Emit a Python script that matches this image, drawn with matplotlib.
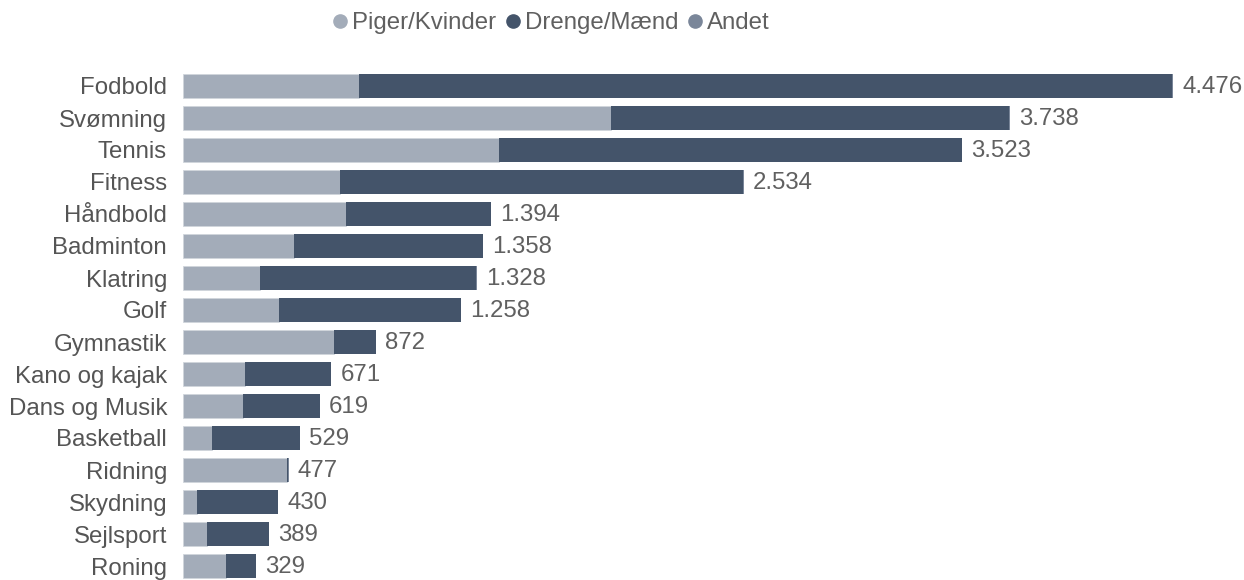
import matplotlib.pyplot as plt
from matplotlib.lines import Line2D

sports = ['Fodbold', 'Svømning', 'Tennis', 'Fitness', 'Håndbold', 'Badminton', 'Klatring',
          'Golf', 'Gymnastik', 'Kano og kajak', 'Dans og Musik', 'Basketball', 'Ridning',
          'Skydning', 'Sejlsport', 'Roning']
totals = [4476, 3738, 3523, 2534, 1394, 1358, 1328, 1258, 872, 671, 619, 529, 477, 430, 389, 329]
piger = [796, 1935, 1429, 710, 737, 502, 348, 434, 683, 280, 271, 131, 470, 63, 108, 194]
andet = [4, 3, 3, 3, 2, 2, 2, 2, 1, 1, 1, 1, 1, 1, 1, 1]
drenge = [t - p - a for t, p, a in zip(totals, piger, andet)]

c_piger = '#A3ACB9'
c_drenge = '#44546A'
c_andet = '#7A8699'

plt.rcParams['font.family'] = ['Liberation Sans', 'DejaVu Sans']
fs = 17.3

W, H = 1244, 580
fig = plt.figure(figsize=(W / 100, H / 100), dpi=100)
# axes in pixel coordinates: left edge at bar start, top/bottom around the rows
x0, x1 = 183, 1244
y_top, y_bot = 70, 580
ax = fig.add_axes([x0 / W, 1 - y_bot / H, (x1 - x0) / W, (y_bot - y_top) / H])

ypos = list(range(len(sports)))
h = 0.75
ax.barh(ypos, piger, height=h, color=c_piger, edgecolor='#D0D5DC', linewidth=0.6)
ax.barh(ypos, drenge, left=piger, height=h, color=c_drenge)
ax.barh(ypos, andet, left=[p + d for p, d in zip(piger, drenge)], height=h, color=c_andet)

for y, t in zip(ypos, totals):
    lbl = '{:,}'.format(t).replace(',', '.')
    ax.annotate(lbl, (t, y), xytext=(6.5, -1), textcoords='offset points', va='center', ha='left',
                fontsize=fs, color='#606060')

ax.set_xlim(0, (x1 - x0) / 0.2212)
ax.set_ylim(15.5 - 2 / 32, -0.5)
ax.set_yticks(ypos)
ax.set_yticklabels(sports, fontsize=fs, color='#555555')
ax.tick_params(axis='y', length=0, pad=11.5)
ax.set_xticks([])
for s in ax.spines.values():
    s.set_visible(False)

handles = [Line2D([], [], marker='o', ls='', color=c, markersize=9.5) for c in (c_piger, c_drenge, c_andet)]
fig.legend(handles, ['Piger/Kvinder', 'Drenge/Mænd', 'Andet'], loc='center',
           bbox_to_anchor=(551 / W, 1 - 23 / H), ncol=3, frameon=False, fontsize=fs,
           handletextpad=0.2, columnspacing=0.4, labelcolor='#606060', handlelength=0.6)

fig.savefig('out.png', dpi=100)
